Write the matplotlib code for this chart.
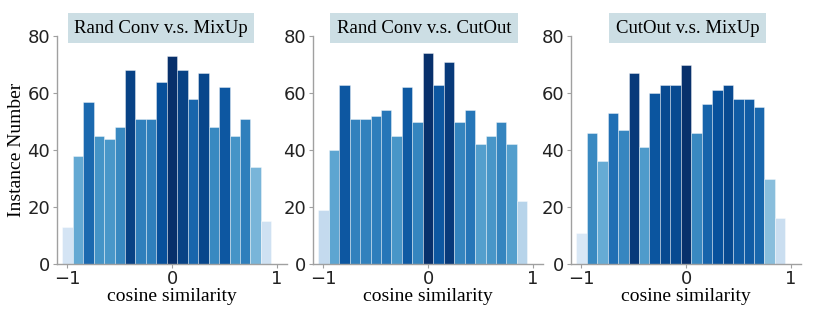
import matplotlib
matplotlib.use("Agg")
import matplotlib.pyplot as plt
import numpy as np

# ── data ─────────────────────────────────────────────────────────────────────
bin_centers = [-1.0, -0.9, -0.8, -0.7, -0.6, -0.5, -0.4, -0.3, -0.2, -0.1,
               0.0, 0.1, 0.2, 0.3, 0.4, 0.5, 0.6, 0.7, 0.8, 0.9]

titles = ["Rand Conv v.s. MixUp", "Rand Conv v.s. CutOut", "CutOut v.s. MixUp"]

randconv_mixup = [13, 38, 57, 45, 44, 48, 68, 51, 51, 64,
                  73, 68, 58, 67, 48, 62, 45, 51, 34, 15]
randconv_cutout = [19, 40, 63, 51, 51, 52, 54, 45, 62, 50,
                   74, 63, 71, 50, 54, 42, 45, 50, 42, 22]
cutout_mixup = [11, 46, 36, 53, 47, 67, 41, 60, 63, 63,
                70, 46, 56, 61, 63, 58, 58, 55, 30, 16]

x_ticks = [-1, 0, 1]
y_ticks = [0, 20, 40, 60, 80]

SERIF = "Liberation Serif"
_SPINE = "#a0a0a0"
_BOX = "#ccdee4"

fig = plt.figure(figsize=(8.3, 3.11), dpi=100)

lefts = [57, 313, 571]
title_x = [0.452, 0.483, 0.507]
series = [randconv_mixup, randconv_cutout, cutout_mixup]

for i, (vals, title) in enumerate(zip(series, titles)):
    ax = fig.add_axes([lefts[i] / 830, 0.151, 230 / 830, 0.733])
    vals = np.asarray(vals, dtype=float)
    cols = plt.cm.Blues(vals / vals.max())
    ax.bar(bin_centers, vals, width=0.1, color=cols,
           edgecolor=(1, 1, 1, 0.45), linewidth=0.6)

    ax.set_xlim(-1.1, 1.1)
    ax.set_ylim(0, 80)
    ax.set_xticks(x_ticks)
    ax.set_yticks(y_ticks)
    ax.tick_params(labelsize=13, colors="#222222", length=3, width=0.8, pad=2)
    ax.tick_params(axis="x", pad=1)
    ax.tick_params(color=_SPINE)
    for s in ("top", "right"):
        ax.spines[s].set_visible(False)
    for s in ("left", "bottom"):
        ax.spines[s].set_color(_SPINE)
        ax.spines[s].set_linewidth(1.0)

    ax.set_xlabel("cosine similarity", family=SERIF, fontsize=14, labelpad=0)
    if i == 0:
        ax.set_ylabel("Instance Number", family=SERIF, fontsize=14, labelpad=2)

    ax.text(title_x[i], 1.035, title, transform=ax.transAxes,
            ha="center", va="center", family=SERIF, fontsize=13.5,
            bbox=dict(boxstyle="square,pad=0.35", facecolor=_BOX,
                      edgecolor="none"),
            clip_on=False)

fig.savefig("out.png", dpi=100)
